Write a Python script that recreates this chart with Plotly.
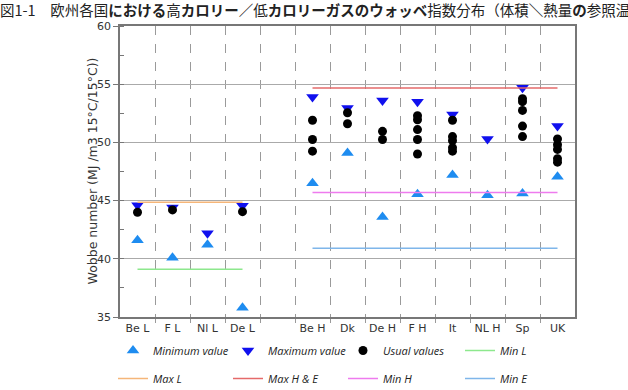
import plotly.graph_objects as go

categories = ["Be L", "F L", "Nl L", "De L", "", "Be H", "Dk", "De H", "F H", "It", "NL H", "Sp", "UK"]
min_values = [41.6, 40.1, 41.2, 35.8, None, 46.5, 49.1, 43.6, 45.55, 47.2, 45.45, 45.6, 47.05]
max_values = [44.6, 44.4, 42.2, 44.55, None, 53.9, 52.95, 53.6, 53.5, 52.4, 50.3, 54.7, 51.4]
usual_values = [
    [44.0], [44.2], [], [44.05], [],
    [51.9, 50.25, 49.25],
    [52.55, 51.6],
    [50.95, 50.25],
    [52.3, 51.95, 51.1, 50.25, 49.0],
    [51.9, 50.5, 50.15, 49.55, 49.25],
    [],
    [53.75, 53.5, 52.75, 51.4, 50.5],
    [50.3, 49.8, 49.4, 48.6, 48.3],
]
# reference lines: (name, value, first category, last category, colour)
ref_lines = [
    ("Min L", 39.1, "Be L", "De L", "#8de88d"),
    ("Max L", 44.85, "Be L", "De L", "#f5b679"),
    ("Max H & E", 54.68, "Be H", "UK", "#e56a6a"),
    ("Min H", 45.7, "Be H", "UK", "#ee7bee"),
    ("Min E", 40.9, "Be H", "UK", "#7fb6ea"),
]
y_ticks = [35, 40, 45, 50, 55, 60]
y_title = "Wobbe number (MJ /m3 15°C/15°C))"

# legend column for each entry (reference shows 4 columns x 2 rows)
legend_of = {
    "Minimum value": "legend", "Max L": "legend",
    "Maximum value": "legend2", "Max H & E": "legend2",
    "Usual values": "legend3", "Min H": "legend3",
    "Min L": "legend4", "Min E": "legend4",
}
rank_of = {"Minimum value": 1, "Maximum value": 1, "Usual values": 1, "Min L": 1,
           "Max L": 2, "Max H & E": 2, "Min H": 2, "Min E": 2}

idx = list(range(len(categories)))
fig = go.Figure()

def add(trace):
    n = trace.name
    trace.legend = legend_of[n]
    trace.legendgroup = n
    trace.legendrank = rank_of[n]
    fig.add_trace(trace)

add(go.Scatter(
    x=idx, y=min_values, mode="markers", name="Minimum value",
    marker=dict(symbol="triangle-up", size=11, color="#1e8cf0")))
add(go.Scatter(
    x=idx, y=max_values, mode="markers", name="Maximum value",
    marker=dict(symbol="triangle-down", size=11, color="#1010ee")))
ux, uy = [], []
for i, vals in zip(idx, usual_values):
    for v in vals:
        ux.append(i)
        uy.append(v)
add(go.Scatter(
    x=ux, y=uy, mode="markers", name="Usual values",
    marker=dict(symbol="circle", size=9, color="black")))

for name, val, c0, c1, col in ref_lines:
    x0, x1 = categories.index(c0), categories.index(c1)
    add(go.Scatter(
        x=[x0, x1], y=[val, val], mode="lines", name=name,
        line=dict(color=col, width=1.5)))

title_text = ("図1-1　欧州各国<b>における</b>高<b>カロリー</b>／低<b>カロリーガスのウォッベ</b>"
              "指数分布（体積<b>＼</b>熱量<b>の</b>参照温度15℃／15℃）")

legend_common = dict(
    orientation="v", xref="container", yref="container",
    xanchor="left", yanchor="top", y=1 - 336 / 390,
    tracegroupgap=9,
    font=dict(family="Open Sans, Noto Sans, sans-serif", size=11, color="#222222", style="italic"),
    bgcolor="rgba(0,0,0,0)", borderwidth=0, itemclick=False,
)

fig.update_layout(
    width=628, height=390,
    margin=dict(l=120, r=53, t=26, b=73, autoexpand=False),
    paper_bgcolor="white", plot_bgcolor="white",
    title=dict(text=title_text, x=0, xref="container", xanchor="left",
               y=1 - 11 / 390, yref="container", yanchor="middle",
               font=dict(family="Noto Sans CJK JP, sans-serif", size=14.5, color="#222222")),
    xaxis=dict(
        range=[-0.5, len(categories) - 0.5],
        tickmode="array", tickvals=idx, ticktext=categories,
        ticks="", showgrid=False, zeroline=False,
        showline=True, linecolor="#777777", linewidth=1.5, mirror=True,
        tickfont=dict(family="DejaVu Sans, sans-serif", size=11, color="#333333"),
        minor=dict(tickmode="array", tickvals=[i + 0.5 for i in idx[:-1]],
                   showgrid=True, griddash="dash", gridcolor="#9a9a9a", gridwidth=1,
                   ticks="outside", ticklen=4, tickcolor="#9a9a9a"),
    ),
    yaxis=dict(
        range=[35, 60], tickmode="array", tickvals=y_ticks,
        ticks="outside", ticklen=5, tickcolor="#777777",
        showgrid=True, gridcolor="#aaaaaa", gridwidth=1, zeroline=False,
        showline=True, linecolor="#777777", linewidth=1.5, mirror=True,
        tickfont=dict(family="DejaVu Sans, sans-serif", size=11, color="#333333"),
        minor=dict(dtick=2.5, tick0=35, ticks="inside", ticklen=4, tickcolor="#777777", showgrid=False),
    ),
    annotations=[dict(
        text=y_title, textangle=-90, showarrow=False,
        xref="paper", yref="paper", x=-28 / 455, y=0.5,
        xanchor="center", yanchor="middle",
        font=dict(family="DejaVu Sans, sans-serif", size=12.5, color="#333333"),
    )],
    legend=dict(x=113 / 628, **legend_common),
    legend2=dict(x=228 / 628, **legend_common),
    legend3=dict(x=343 / 628, **legend_common),
    legend4=dict(x=460 / 628, **legend_common),
)

fig.write_html("out.html")
